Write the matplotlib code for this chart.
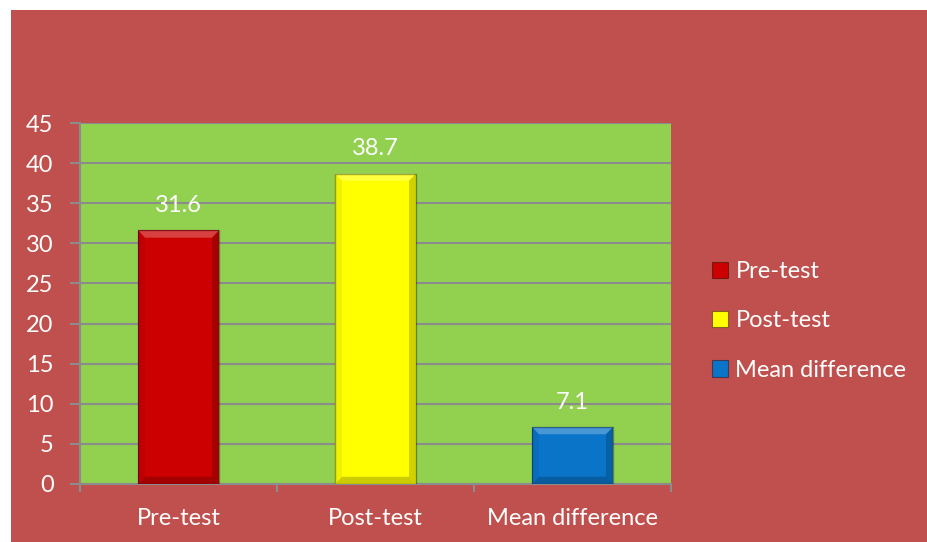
import matplotlib
matplotlib.use("Agg")
import matplotlib.pyplot as plt
from matplotlib.patches import Rectangle, Polygon

categories = ["Pre-test", "Post-test", "Mean difference"]
values = [31.6, 38.7, 7.1]
bar_colors = ["#CC0000", "#FFFF00", "#0A74C8"]
yticks = [0, 5, 10, 15, 20, 25, 30, 35, 40, 45]

plt.rcParams['font.family'] = ['Lato', 'DejaVu Sans']

fig = plt.figure(figsize=(9.28, 5.42), dpi=100)
fig.patch.set_facecolor("white")
# red slide background, leaving a thin white strip at left and top
fig.patches.append(Rectangle((11 / 928, -0.05), 1.0, 532 / 542 + 0.05,
                             transform=fig.transFigure, facecolor="#C0504D",
                             edgecolor="none", zorder=-10))

ax = fig.add_axes([80 / 928, 58 / 542, 591 / 928, 361 / 542])
ax.set_facecolor("#92D050")

x = list(range(len(categories)))
width = 0.41
bars = ax.bar(x, values, width=width, color=bar_colors, zorder=3,
              edgecolor="none")


def bevel(ax, bar):
    # simple bevel: light top, shaded sides, dark bottom rim
    x0 = bar.get_x()
    x1 = x0 + bar.get_width()
    y0 = bar.get_y()
    y1 = y0 + bar.get_height()
    dx = 0.035
    dy = 0.9
    top = Polygon([(x0, y1), (x1, y1), (x1 - dx, y1 - dy), (x0 + dx, y1 - dy)],
                  facecolor="white", alpha=0.25, edgecolor="none", zorder=4)
    left = Polygon([(x0, y1), (x0 + dx, y1 - dy), (x0 + dx, y0 + dy), (x0, y0)],
                   facecolor="black", alpha=0.06, edgecolor="none", zorder=4)
    right = Polygon([(x1, y1), (x1 - dx, y1 - dy), (x1 - dx, y0 + dy), (x1, y0)],
                    facecolor="black", alpha=0.18, edgecolor="none", zorder=4)
    bottom = Polygon([(x0, y0), (x0 + dx, y0 + dy), (x1 - dx, y0 + dy), (x1, y0)],
                     facecolor="black", alpha=0.2, edgecolor="none", zorder=4)
    for p in (top, left, right, bottom):
        ax.add_patch(p)
    ax.add_patch(Rectangle((x0, y0), x1 - x0, y1 - y0, facecolor="none",
                           edgecolor="black", alpha=0.35, lw=1.0, zorder=5))


for b in bars:
    bevel(ax, b)

for xi, v in zip(x, values):
    ax.text(xi, v + 3.1, "%.1f" % v, ha="center", va="center",
            color="white", fontsize=17, zorder=6)

ax.set_xlim(-0.5, 2.5)
ax.set_ylim(0, 45)
ax.set_yticks(yticks)
ax.yaxis.grid(True, color="#8C8C8C", lw=1.5, zorder=1)
ax.set_axisbelow(True)

ax.set_xticks([-0.5, 0.5, 1.5, 2.5], minor=False)
ax.set_xticklabels([])
ax.set_xticks(x, minor=True)
ax.set_xticklabels(categories, minor=True)
ax.tick_params(axis="x", which="minor", length=0, pad=17, labelsize=17,
               labelcolor="white")
ax.tick_params(axis="x", which="major", length=6, width=1.5, color="#8C8C8C")
ax.tick_params(axis="y", length=7, width=1.5, color="#8C8C8C", labelsize=17,
               labelcolor="white", pad=12)

for s in ("top", "right"):
    ax.spines[s].set_visible(False)
for s in ("left", "bottom"):
    ax.spines[s].set_color("#8C8C8C")
    ax.spines[s].set_linewidth(1.5)

handles = [Rectangle((0, 0), 1, 1, facecolor=c, edgecolor="#00000066", lw=0.8)
           for c in bar_colors]
leg = fig.legend(handles, categories, loc="center left",
                 bbox_to_anchor=(691 / 928, 1 - 321 / 542), frameon=False,
                 fontsize=17, handlelength=0.68, handleheight=0.68,
                 handletextpad=0.3, labelspacing=1.2)
for t in leg.get_texts():
    t.set_color("white")

fig.savefig("out.png", dpi=100, facecolor=fig.get_facecolor())
